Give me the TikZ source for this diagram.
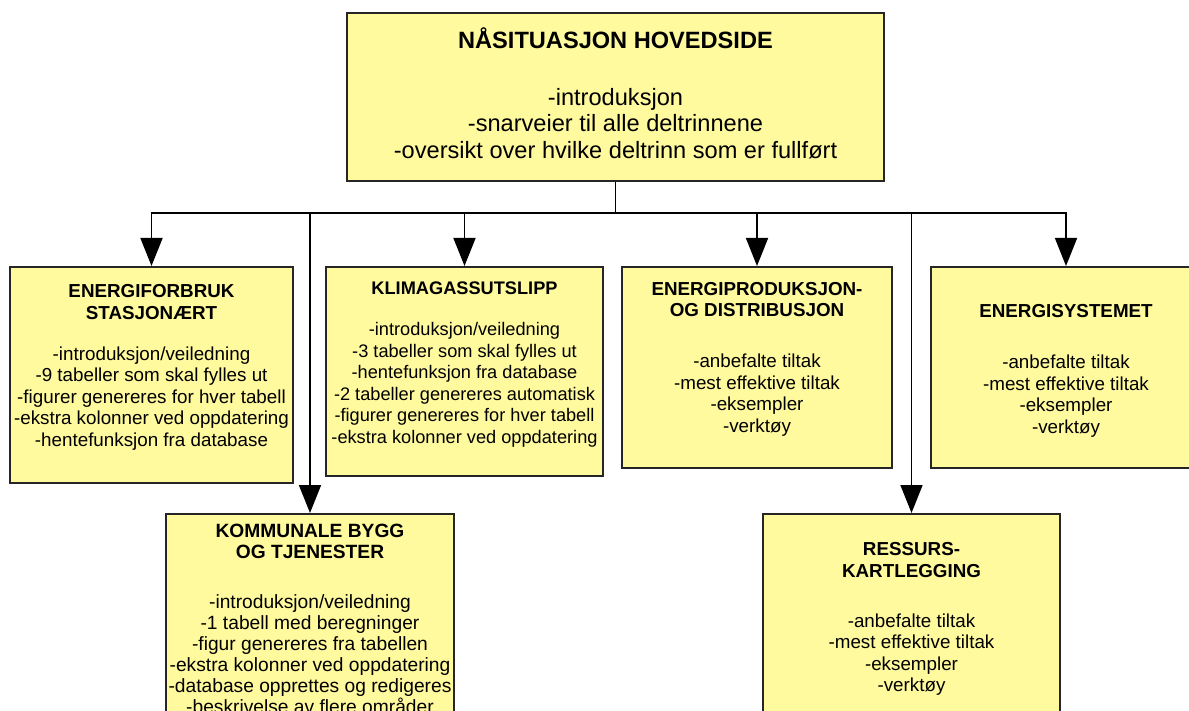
\documentclass[tikz,border=0pt]{standalone}
\usepackage{fontspec}
\setmainfont{Liberation Sans}
\usetikzlibrary{arrows.meta,positioning}
\definecolor{boksgul}{RGB}{255,250,158}
\newcommand{\bunn}[1]{\rule[-#1]{0pt}{#1}}
\newcommand{\topp}[1]{\rule{0pt}{#1}}

\begin{document}
\begin{tikzpicture}[
            x=0.5pt, y=-0.5pt,
            font=\fontsize{9.4pt}{10.75pt}\selectfont,
            % Stiler
            boks/.style={rectangle, draw=black!85, line width=0.9pt, fill=boksgul, align=center, anchor=north, inner sep=1pt},
            hovedboks/.style={boks, font=\fontsize{11.8pt}{13.25pt}\selectfont},
            linje/.style={line width=0.8pt, draw=black},
            pil/.style={linje, -{Triangle[length=14pt,width=11pt]}}
        ]

        \useasboundingbox (0,0) rectangle (1189,711);
        \clip (0,0) rectangle (1189,711);
        \fill [white] (0,0) rectangle (1189,711);

        % Noder
        \node (hoved) [hovedboks, minimum width=268.5pt, minimum height=84pt] at (615.5,12) {\textbf{NÅSITUASJON HOVEDSIDE}\\[15.25pt] -introduksjon\\ -snarveier til alle deltrinnene\\ -oversikt over hvilke deltrinn som er fullført\bunn{4pt}};

        \node (forbruk) [boks, minimum width=141.5pt, minimum height=108pt] at (151.5,266) {\textbf{ENERGIFORBRUK}\\ \textbf{STASJONÆRT}\\[9.75pt] -introduksjon/veiledning\\ -9 tabeller som skal fylles ut\\ -figurer genereres for hver tabell\\ -ekstra kolonner ved oppdatering\\ -hentefunksjon fra database\bunn{9.5pt}};

        \node (klima) [boks, font=\fontsize{9.1pt}{10.75pt}\selectfont, minimum width=138.5pt, minimum height=104.5pt] at (464.5,266) {\textbf{KLIMAGASSUTSLIPP}\\[9.75pt] -introduksjon/veiledning\\ -3 tabeller som skal fylles ut\\ -hentefunksjon fra database\\ -2 tabeller genereres automatisk\\ -figurer genereres for hver tabell\\ -ekstra kolonner ved oppdatering\bunn{9pt}};

        \node (produksjon) [boks, minimum width=135pt, minimum height=100.5pt] at (757,266) {\textbf{ENERGIPRODUKSJON-}\\ \textbf{OG DISTRIBUSJON}\\[14.75pt] -anbefalte tiltak\\ -mest effektive tiltak\\ -eksempler\\ -verktøy\bunn{10pt}};

        \node (system) [boks, minimum width=135pt, minimum height=100.5pt] at (1066,266) {\topp{9.8pt}\textbf{ENERGISYSTEMET}\\[14.75pt] -anbefalte tiltak\\ -mest effektive tiltak\\ -eksempler\\ -verktøy};

        % Nederste rad
        \node (kommunal) [boks, font=\fontsize{9.6pt}{10.5pt}\selectfont, minimum width=144pt, minimum height=105pt] at (310,513) {\textbf{KOMMUNALE BYGG}\\ \textbf{OG TJENESTER}\\[14.75pt] -introduksjon/veiledning\\ -1 tabell med beregninger\\ -figur genereres fra tabellen\\ -ekstra kolonner ved oppdatering\\ -database opprettes og redigeres\\ -beskrivelse av flere områder};

        \node (ressurs) [boks, minimum width=148.5pt, minimum height=105pt] at (911.5,513) {\textbf{RESSURS-}\\ \textbf{KARTLEGGING}\\[14.25pt] -anbefalte tiltak\\ -mest effektive tiltak\\ -eksempler\\ -verktøy};

        % Forbindelser
        \coordinate (gren) at (615.5,213);
        \draw [linje] (hoved.south) -- (gren);
        \draw [pil] (gren) -| (forbruk.north);
        \draw [pil] (gren) -| (system.north);
        \draw [pil] (klima.north |- gren) -- (klima.north);
        \draw [pil] (produksjon.north |- gren) -- (produksjon.north);
        \draw [pil] (kommunal.north |- gren) -- (kommunal.north);
        \draw [pil] (ressurs.north |- gren) -- (ressurs.north);

    \end{tikzpicture}
\end{document}
